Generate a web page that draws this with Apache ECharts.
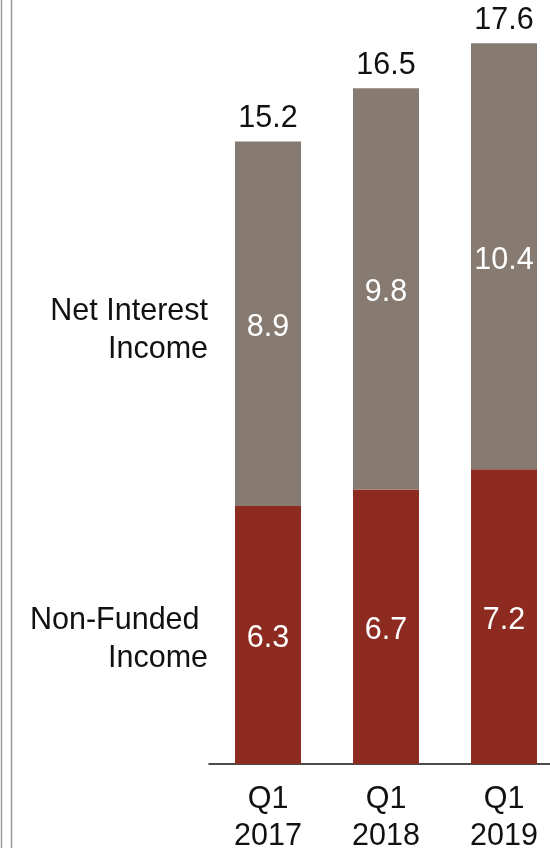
<!DOCTYPE html>
<html>
<head>
<meta charset="utf-8">
<script src="https://cdn.jsdelivr.net/npm/echarts@6/dist/echarts.min.js"></script>
<style>
  html, body { margin: 0; padding: 0; background: #fff; }
  #chart { width: 550px; height: 848px; }
</style>
</head>
<body>
<div id="chart"></div>
<script>
  // data
  var categories = ['Q1\n2017', 'Q1\n2018', 'Q1\n2019'];
  var nonFunded = [6.3, 6.7, 7.2];
  var netInterest = [8.9, 9.8, 10.4];
  var totals = [15.2, 16.5, 17.6];
  var seriesNames = ['Non-Funded \nIncome', 'Net Interest\nIncome'];

  var font = '"Liberation Sans", Arial, sans-serif';
  var fs = 30.5;
  var chart = echarts.init(document.getElementById('chart'));

  var option = {
    animation: false,
    backgroundColor: '#fff',
    grid: { left: 209, width: 354, top: 17, bottom: 84, outerBoundsMode: 'none', containLabel: false },
    xAxis: {
      type: 'category',
      data: categories,
      axisLine: { lineStyle: { color: '#111', width: 1.5 } },
      axisTick: { show: false },
      axisLabel: {
        color: '#111', fontSize: fs, fontFamily: font,
        lineHeight: 37, margin: 17
      }
    },
    yAxis: {
      type: 'value', min: 0, max: 18.24,
      show: false, splitLine: { show: false }
    },
    series: [
      {
        name: seriesNames[0], type: 'bar', stack: 'a', barWidth: 66,
        data: nonFunded,
        itemStyle: { color: '#8E2B21' },
        label: { show: true, position: 'inside', offset: [0, 4], color: '#fff', fontSize: fs, fontFamily: font }
      },
      {
        name: seriesNames[1], type: 'bar', stack: 'a', barWidth: 66,
        data: netInterest,
        itemStyle: { color: '#877A70' },
        label: { show: true, position: 'inside', offset: [0, 4], color: '#fff', fontSize: fs, fontFamily: font }
      },
      {
        name: 'total', type: 'bar', stack: 'a', barWidth: 66,
        data: totals.map(function () { return 0; }),
        itemStyle: { color: 'transparent' },
        label: {
          show: true, position: 'top', distance: 7,
          color: '#111', fontSize: fs, fontFamily: font,
          formatter: function (p) { return totals[p.dataIndex]; }
        }
      }
    ]
  };
  chart.setOption(option);

  // side labels, lined up with the middle of each 2017 segment
  var yNF = chart.convertToPixel({ gridIndex: 0 }, [0, nonFunded[0] / 2])[1];
  var yNI = chart.convertToPixel({ gridIndex: 0 }, [0, nonFunded[0] + netInterest[0] / 2])[1];

  chart.setOption({
    graphic: [
      { type: 'line', shape: { x1: 1.5, y1: 0, x2: 1.5, y2: 848 }, style: { stroke: '#9a9a9a', lineWidth: 1.5 } },
      { type: 'line', shape: { x1: 11.5, y1: 0, x2: 11.5, y2: 848 }, style: { stroke: '#9a9a9a', lineWidth: 1.5 } },
      {
        type: 'text', x: 208, y: yNI + 7,
        style: { text: seriesNames[1], align: 'right', verticalAlign: 'middle',
                 font: fs + 'px ' + font, lineHeight: 38, fill: '#111' }
      },
      {
        type: 'text', x: 208, y: yNF + 5,
        style: { text: seriesNames[0], align: 'right', verticalAlign: 'middle',
                 font: fs + 'px ' + font, lineHeight: 38, fill: '#111' }
      }
    ]
  });
</script>
</body>
</html>
